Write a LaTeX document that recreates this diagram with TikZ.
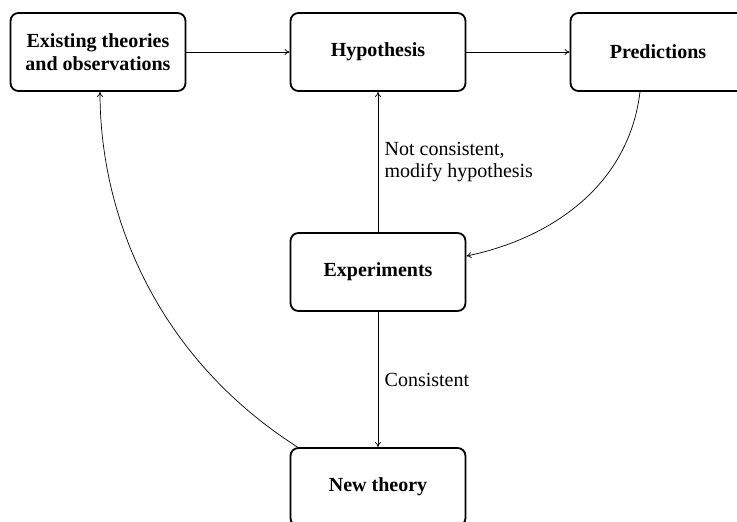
\documentclass[tikz,border=0pt]{standalone}
\usepackage{fontspec}
\setmainfont{Liberation Serif}
\usetikzlibrary{arrows.meta}
\begin{document}
\begin{tikzpicture}[x=1pt,y=-1pt,
  box/.style={draw,line width=1.8pt,rounded corners=8pt,minimum width=175pt,minimum height=78pt,align=center,font=\fontsize{20}{23}\selectfont\bfseries},
  conn/.style={-{To[length=5pt,width=6pt]},line width=0.7pt},
  lbl/.style={font=\fontsize{20}{22}\selectfont,align=left}]
\useasboundingbox (0,0) rectangle (737,522);
\node[box] (exist) at (98,52) {Existing theories\\and observations};
\node[box] (hyp) at (378,52) {Hypothesis};
\node[box] (pred) at (658,52) {Predictions};
\node[box] (exp) at (378,272) {Experiments};
\node[box] (new) at (378,487) {New theory};
\draw[conn] (exist) -- (hyp);
\draw[conn] (hyp) -- (pred);
\draw[conn] (exp) -- node[lbl,right=3pt] {Not consistent,\\modify hypothesis} (hyp);
\draw[conn] (exp) -- node[lbl,right=3pt] {Consistent} (new);
\coordinate (ps) at (640,92);
\draw[conn] (ps) .. controls (628,190) and (545,240) .. (exp.east |- 0,256);
\coordinate (ns) at (299,448);
\draw[conn] (ns) .. controls (160,360) and (100,220) .. (exist.south -| 100,0);
\end{tikzpicture}
\end{document}
